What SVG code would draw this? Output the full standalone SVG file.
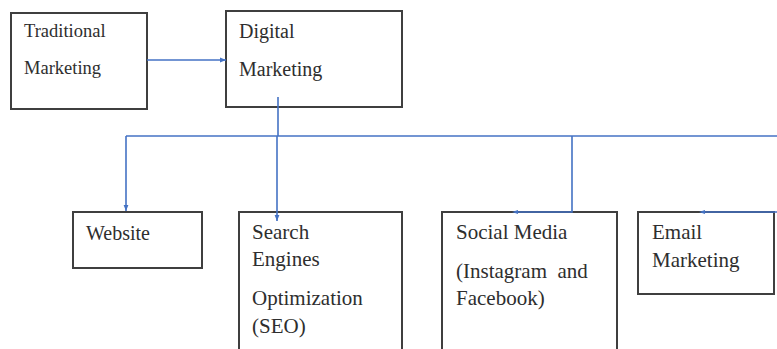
<svg xmlns="http://www.w3.org/2000/svg" width="777" height="349" viewBox="0 0 777 349">
<style>
.box{fill:#fff;stroke:#3f3f3f;stroke-width:2}
.t{font-family:"Liberation Serif","Times New Roman",serif;fill:#2e2e2e;font-size:20px}
.c{fill:none;stroke:#4472c4;stroke-width:1.6}
</style>
<defs>
<marker id="ah" viewBox="0 0 10 10" refX="10" refY="5" markerWidth="6" markerHeight="6" orient="auto" markerUnits="userSpaceOnUse"><path d="M0,1 L10,5 L0,9 z" fill="#4472c4"/></marker>
<marker id="dot" viewBox="0 0 10 10" refX="5" refY="5" markerWidth="6" markerHeight="6" orient="auto" markerUnits="userSpaceOnUse"><path d="M0,1.5 L10,5 L0,8.5 z" fill="#4472c4"/></marker>
</defs>
<g id="traditional"><rect class="box" x="11" y="13" width="136" height="96"/><text class="t" style="font-size:18.5px" x="24" y="37">Traditional</text><text class="t" style="font-size:18.5px" x="24" y="74">Marketing</text></g>
<g id="digital"><rect class="box" x="226" y="11" width="176" height="96"/><text class="t" x="239" y="38">Digital</text><text class="t" x="239" y="76">Marketing</text></g>
<g id="website"><rect class="box" x="73" y="212" width="129" height="56"/><text class="t" x="86" y="240">Website</text></g>
<g id="seo"><rect class="box" x="239" y="212" width="163" height="150"/><text class="t" style="font-size:21px" x="252" y="239">Search</text><text class="t" style="font-size:21px" x="252" y="266">Engines</text><text class="t" style="font-size:21px" x="252" y="305">Optimization</text><text class="t" style="font-size:21px" x="252" y="333">(SEO)</text></g>
<g id="social"><rect class="box" x="442" y="212" width="175" height="150"/><text class="t" style="font-size:21px" x="456" y="239">Social Media</text><text class="t" style="font-size:21px" x="456" y="278" xml:space="preserve">(Instagram  and</text><text class="t" style="font-size:21px" x="456" y="305">Facebook)</text></g>
<g id="email"><rect class="box" x="638" y="212" width="136" height="82"/><text class="t" style="font-size:21px" x="652" y="239">Email</text><text class="t" style="font-size:21px" x="652" y="267">Marketing</text></g>
<g id="connectors">
<path class="c" d="M147,60 H226" marker-end="url(#ah)"/>
<path class="c" d="M278,97 V136"/>
<path class="c" d="M126,136 H777"/>
<path class="c" d="M126,136 V211" marker-end="url(#ah)"/>
<path class="c" d="M277,136 V221" marker-end="url(#ah)"/>
<path class="c" d="M572,136 V212 H515" marker-end="url(#dot)"/>
<path class="c" d="M777,212 H702" marker-end="url(#dot)"/>
</g>
</svg>
